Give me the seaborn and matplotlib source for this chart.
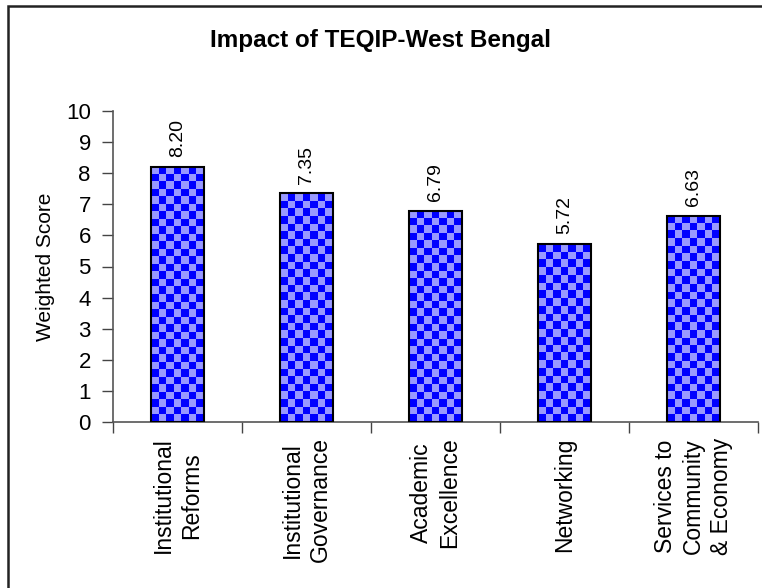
import numpy as np
import pandas as pd
import matplotlib
matplotlib.use("Agg")
import matplotlib.pyplot as plt
from matplotlib.patches import Rectangle
import seaborn as sns

categories = ["Institutional\nReforms", "Institutional\nGovernance", "Academic\nExcellence",
              "Networking", "Services to\nCommunity\n& Economy"]
scores = [8.20, 7.35, 6.79, 5.72, 6.63]
yticks = list(range(0, 11))

sns.set_theme(style="white")
plt.rcParams['font.family'] = ['Liberation Sans', 'DejaVu Sans']

W, H = 762, 588
fig = plt.figure(figsize=(W / 100, H / 100), dpi=100)
fig.patch.set_facecolor("white")
ax = fig.add_axes([113 / W, 1 - 422 / H, (758 - 113) / W, (422 - 111) / H])

df = pd.DataFrame({"cat": categories, "score": scores})
sns.barplot(data=df, x="cat", y="score", ax=ax, color="#9999FF", width=0.41,
            edgecolor="black", linewidth=1.5, saturation=1)

ax.set_xlim(-0.5, len(categories) - 0.5)
ax.set_ylim(0, 10)
ax.set_yticks(yticks)
ax.set_yticklabels([str(t) for t in yticks], fontsize=16)

# checkerboard fill clipped to each bar
fig.canvas.draw()
cell = 7.6
cmap = matplotlib.colors.ListedColormap(["#0000FF", "#9999FF"])
for p in ax.patches:
    bb = p.get_window_extent()
    nx = max(1, int(round(bb.width / cell)))
    ny = max(1, int(round(bb.height / cell)))
    board = (np.add.outer(np.arange(ny), np.arange(nx)) % 2).astype(float)
    x0, y0 = p.get_x(), p.get_y()
    w, h = p.get_width(), p.get_height()
    im = ax.imshow(board, extent=(x0, x0 + w, y0, y0 + h), cmap=cmap, vmin=0, vmax=1,
                   interpolation="nearest", aspect="auto", zorder=2, origin="lower")
    im.set_clip_path(p)
    p.set_facecolor("none")
    p.set_zorder(3)
ax.set_xlim(-0.5, len(categories) - 0.5)
ax.set_ylim(0, 10)

for c in ax.containers:
    ax.bar_label(c, labels=[f"{v:.2f}" for v in scores], rotation=90, padding=7,
                 fontsize=14, color="black")

ax.set_xlabel("")
ax.set_ylabel("Weighted Score", fontsize=15, labelpad=8, color="black")

ax.set_xticks(range(len(categories)))
ax.set_xticklabels(categories, rotation=90, fontsize=16.5, ha="center", va="top",
                   multialignment="center", linespacing=1.3)
ax.set_xticks(np.arange(-0.5, len(categories), 1.0), minor=True)
ax.tick_params(axis="x", which="major", length=0, pad=11, colors="black")
ax.tick_params(axis="x", which="minor", length=8, width=1, color="#444444", direction="out", bottom=True)
ax.tick_params(axis="y", which="major", length=8, width=1, color="#444444", direction="out",
               left=True, pad=8, labelcolor="black")

for s in ["top", "right"]:
    ax.spines[s].set_visible(False)
for s in ["left", "bottom"]:
    ax.spines[s].set_color("#555555")
    ax.spines[s].set_linewidth(1.2)

fig.text(380 / W, 1 - 40 / H, "Impact of TEQIP-West Bengal", ha="center", va="center",
         fontsize=17.5, fontweight="bold", color="black")

top = 1 - 5.5 / H
border = Rectangle((8 / W, -0.2), 1.2, top + 0.2, transform=fig.transFigure,
                   fill=False, edgecolor="#222222", linewidth=1.8, clip_on=False)
fig.add_artist(border)

fig.savefig("out.png", dpi=100, facecolor="white")
